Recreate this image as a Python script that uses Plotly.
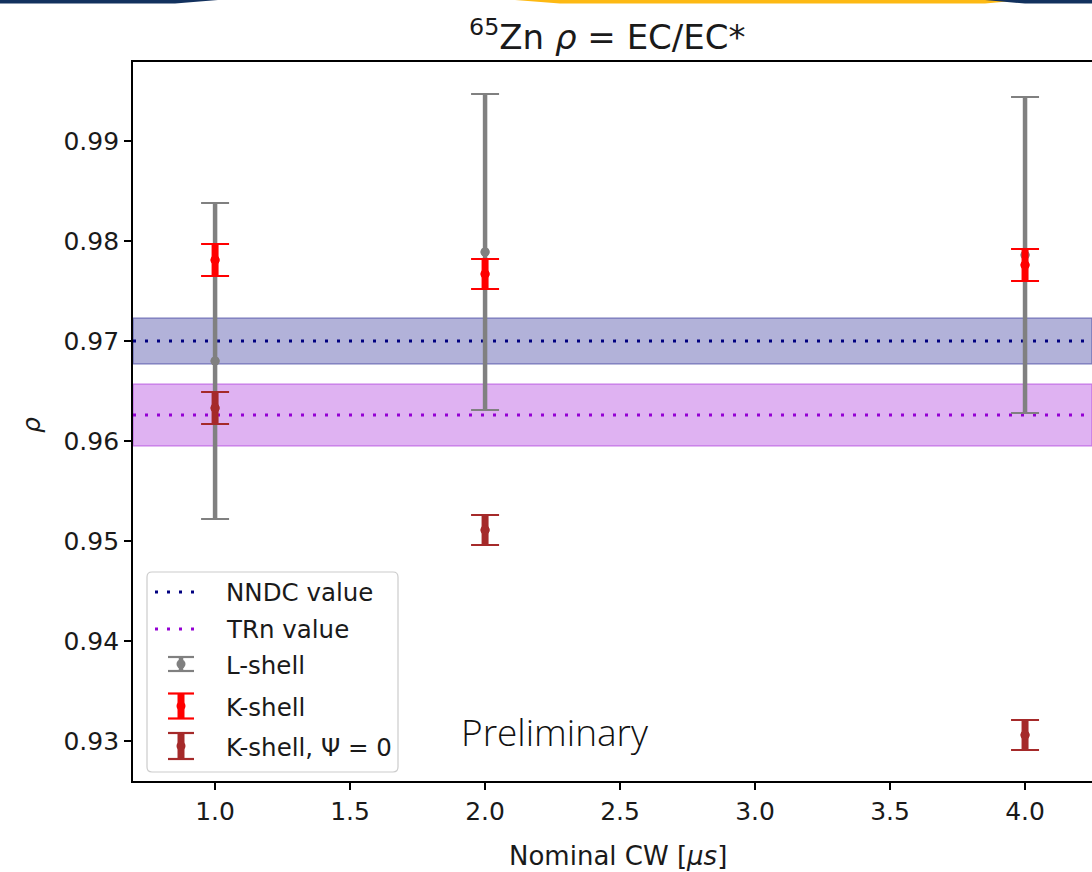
import plotly.graph_objects as go

# ---------------- data ----------------
cw_l = [1.0, 2.0, 4.0]
rho_l = [0.9680, 0.9789, 0.9786]
err_l = [0.0158, 0.0158, 0.0158]

cw_k = [1.0, 2.0, 4.0]
rho_k = [0.9781, 0.9767, 0.9776]
err_k = [0.0016, 0.0015, 0.0016]

cw_k0 = [1.0, 2.0, 4.0]
rho_k0 = [0.9633, 0.9511, 0.9306]
err_k0 = [0.0016, 0.0015, 0.0015]

nndc_value, nndc_err = 0.9700, 0.0023
trn_value, trn_err = 0.9626, 0.0031

x_ticks = [1.0, 1.5, 2.0, 2.5, 3.0, 3.5, 4.0]
y_ticks = [0.93, 0.94, 0.95, 0.96, 0.97, 0.98, 0.99]

legend_labels = ["NNDC value", "TRn value", "L-shell", "K-shell", "K-shell, Ψ = 0"]

# ---------------- geometry helpers ----------------
W, H = 1092, 872
L, R, T, B = 133, 1092, 62, 781


def px(x):
    return (x - L) / (R - L)


def py(y):
    return (B - y) / (B - T)


FONT = "DejaVu Sans"
TXT = "#1a1a1a"
NAVY = "#000080"
VIOLET = "#9400D3"
GRAY = "#808080"
RED = "#FF0000"
BROWN = "#A52A2A"

fig = go.Figure()


def add_series(x, y, e, color, stem):
    # thick stems
    fig.add_trace(go.Scatter(
        x=x, y=y, mode="markers", showlegend=False, hoverinfo="skip",
        marker=dict(size=9, color=color),
        error_y=dict(type="data", array=e, visible=True, color=color,
                     thickness=stem, width=0)))
    # thin caps
    fig.add_trace(go.Scatter(
        x=x, y=y, mode="markers", showlegend=False,
        marker=dict(size=9, color=color),
        error_y=dict(type="data", array=e, visible=True, color=color,
                     thickness=2.2, width=14)))


add_series(cw_l, rho_l, err_l, GRAY, 4.5)
add_series(cw_k, rho_k, err_k, RED, 7)
add_series(cw_k0, rho_k0, err_k0, BROWN, 7)

shapes = []
# bands
for val, err, rgb in [(nndc_value, nndc_err, "0,0,128"), (trn_value, trn_err, "148,0,211")]:
    shapes.append(dict(type="rect", xref="x domain", yref="y", x0=0, x1=1,
                       y0=val - err, y1=val + err, layer="below",
                       fillcolor=f"rgba({rgb},0.3)",
                       line=dict(color=f"rgba({rgb},0.35)", width=1.5)))
# dotted reference lines
for val, col in [(nndc_value, NAVY), (trn_value, VIOLET)]:
    shapes.append(dict(type="line", xref="x domain", yref="y", x0=0, x1=1,
                       y0=val, y1=val, layer="below",
                       line=dict(color=col, width=3.2, dash="3px,9px")))

# ---------------- custom legend ----------------
lx0, lx1, ly0, ly1 = 147, 398, 572, 772
rr = 5
path = (f"M {px(lx0+rr)},{py(ly0)} L {px(lx1-rr)},{py(ly0)} "
        f"Q {px(lx1)},{py(ly0)} {px(lx1)},{py(ly0+rr)} "
        f"L {px(lx1)},{py(ly1-rr)} Q {px(lx1)},{py(ly1)} {px(lx1-rr)},{py(ly1)} "
        f"L {px(lx0+rr)},{py(ly1)} Q {px(lx0)},{py(ly1)} {px(lx0)},{py(ly1-rr)} "
        f"L {px(lx0)},{py(ly0+rr)} Q {px(lx0)},{py(ly0)} {px(lx0+rr)},{py(ly0)} Z")
shapes.append(dict(type="path", xref="paper", yref="paper", path=path,
                   fillcolor="rgba(255,255,255,0.85)",
                   line=dict(color="#cccccc", width=1.2), layer="above"))

row_y = [592, 629, 664, 706, 746]
for yy, col in [(row_y[0], NAVY), (row_y[1], VIOLET)]:
    shapes.append(dict(type="line", xref="paper", yref="paper",
                       x0=px(155), x1=px(202), y0=py(yy), y1=py(yy),
                       line=dict(color=col, width=3.2, dash="3px,9px"), layer="above"))

icon_x = 181
for yy, col, stem, half in [(row_y[2], GRAY, 4.5, 7), (row_y[3], RED, 7, 12.5), (row_y[4], BROWN, 7, 13)]:
    shapes.append(dict(type="line", xref="paper", yref="paper",
                       x0=px(icon_x), x1=px(icon_x), y0=py(yy - half), y1=py(yy + half),
                       line=dict(color=col, width=stem), layer="above"))
    for cy in (yy - half, yy + half):
        shapes.append(dict(type="line", xref="paper", yref="paper",
                           x0=px(icon_x - 13), x1=px(icon_x + 13), y0=py(cy), y1=py(cy),
                           line=dict(color=col, width=2.2), layer="above"))
    shapes.append(dict(type="circle", xref="paper", yref="paper",
                       x0=px(icon_x - 4.5), x1=px(icon_x + 4.5), y0=py(yy - 4.5), y1=py(yy + 4.5),
                       fillcolor=col, line=dict(width=0), layer="above"))

# ---------------- slide decoration bar at top ----------------
def bar(points, color):
    p = "M " + " L ".join(f"{px(a)},{py(b)}" for a, b in points) + " Z"
    return dict(type="path", xref="paper", yref="paper", path=p,
                fillcolor=color, line=dict(width=0), layer="above")


shapes.append(bar([(0, 0), (218, 0), (175, 3.5), (0, 3.5)], "#12315E"))
shapes.append(bar([(515, 0), (1025, 0), (985, 3.5), (560, 3.5)], "#FDB913"))
shapes.append(bar([(985, 0), (1092, 0), (1092, 3.5), (1025, 3.5)], "#12315E"))

annotations = []
for i, lab in enumerate(legend_labels):
    annotations.append(dict(xref="paper", yref="paper", x=px(224), y=py(row_y[i] + (1 if i > 1 else 0)),
                            xanchor="left", yanchor="middle", showarrow=False,
                            text=lab, font=dict(family=FONT, size=24.5, color=TXT)))

annotations += [
    dict(xref="paper", yref="paper", x=px(607), y=py(35), xanchor="center", yanchor="middle",
         showarrow=False, text="<sup>65</sup>Zn <i>ρ</i> = EC/EC*",
         font=dict(family=FONT, size=34, color=TXT)),
    dict(xref="paper", yref="paper", x=px(618), y=py(856), xanchor="center", yanchor="middle",
         showarrow=False, text="Nominal CW [<i>μs</i>]",
         font=dict(family=FONT, size=26, color=TXT)),
    dict(xref="paper", yref="paper", x=px(31), y=py(425), xanchor="center", yanchor="middle",
         showarrow=False, text="<i>ρ</i>", textangle=-90,
         font=dict(family=FONT, size=25, color=TXT)),
    dict(xref="paper", yref="paper", x=px(459), y=py(731), xanchor="left", yanchor="middle",
         showarrow=False, text="Preliminary",
         font=dict(family="Open Sans", size=37, color="#111111", weight=300)),
]

fig.update_layout(
    width=W, height=H,
    margin=dict(l=L, r=W - R, t=T, b=H - B, pad=0),
    paper_bgcolor="white", plot_bgcolor="white",
    showlegend=False,
    shapes=shapes, annotations=annotations,
    xaxis=dict(range=[0.696, 4.248], tickvals=x_ticks, ticktext=[f"{v:.1f}" for v in x_ticks],
               ticks="outside", ticklen=7, tickwidth=1.6, tickcolor="black",
               showline=True, linecolor="black", linewidth=1.8, mirror=True,
               showgrid=False, zeroline=False,
               tickfont=dict(family=FONT, size=25, color=TXT)),
    yaxis=dict(range=[0.926, 0.9979], tickvals=y_ticks, ticktext=[f"{v:.2f}" for v in y_ticks],
               ticks="outside", ticklen=7, tickwidth=1.6, tickcolor="black",
               showline=True, linecolor="black", linewidth=1.8, mirror=False,
               showgrid=False, zeroline=False,
               tickfont=dict(family=FONT, size=25, color=TXT)),
)

fig.write_html("out.html")
